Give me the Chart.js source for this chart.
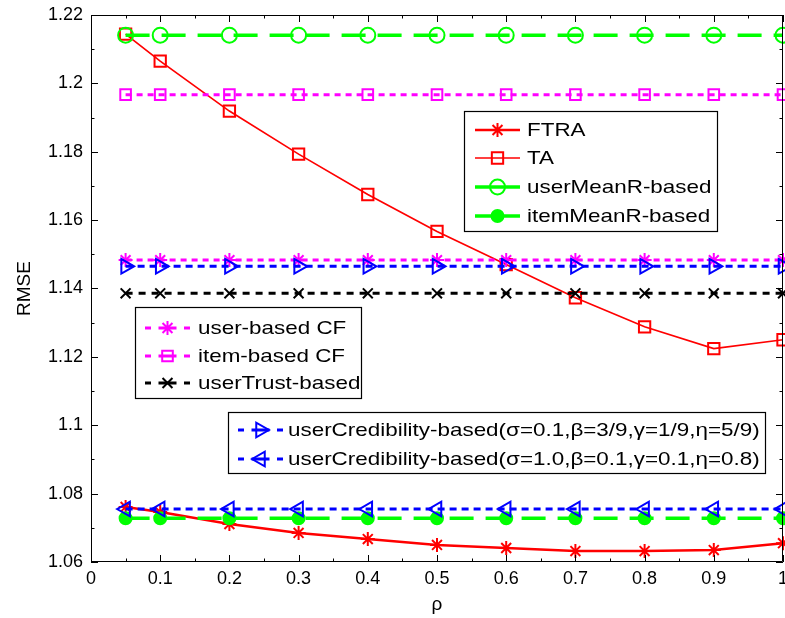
<!DOCTYPE html>
<html>
<head>
<meta charset="utf-8">
<script src="https://cdn.jsdelivr.net/npm/chart.js@4.4.1/dist/chart.umd.min.js"></script>
<style>
  html, body { margin: 0; padding: 0; background: #ffffff; }
  canvas { display: block; }
</style>
</head>
<body>
<canvas id="chart" width="785" height="618"></canvas>
<script>
// Sparsity parameter rho on the x axis
const rho = [0.05, 0.1, 0.2, 0.3, 0.4, 0.5, 0.6, 0.7, 0.8, 0.9, 1.0];

// RMSE of each method
const ftra = [1.0761, 1.0746, 1.0711, 1.0685, 1.0667, 1.0650, 1.0641, 1.0632, 1.0632, 1.0635, 1.0655];
const ta = [1.2144, 1.2065, 1.1919, 1.1793, 1.1675, 1.1567, 1.1470, 1.1373, 1.1288, 1.1224, 1.1250];
const userMeanR = [1.2141, 1.2141, 1.2141, 1.2141, 1.2141, 1.2141, 1.2141, 1.2141, 1.2141, 1.2141, 1.2141];
const itemMeanR = [1.0728, 1.0728, 1.0728, 1.0728, 1.0728, 1.0728, 1.0728, 1.0728, 1.0728, 1.0728, 1.0728];
const userCF = [1.1483, 1.1483, 1.1483, 1.1483, 1.1483, 1.1483, 1.1483, 1.1483, 1.1483, 1.1483, 1.1483];
const itemCF = [1.1967, 1.1967, 1.1967, 1.1967, 1.1967, 1.1967, 1.1967, 1.1967, 1.1967, 1.1967, 1.1967];
const userTrust = [1.1386, 1.1386, 1.1386, 1.1386, 1.1386, 1.1386, 1.1386, 1.1386, 1.1386, 1.1386, 1.1386];
const userCred1 = [1.1465, 1.1465, 1.1465, 1.1465, 1.1465, 1.1465, 1.1465, 1.1465, 1.1465, 1.1465, 1.1465];
const userCred2 = [1.0755, 1.0755, 1.0755, 1.0755, 1.0755, 1.0755, 1.0755, 1.0755, 1.0755, 1.0755, 1.0755];

// Series names
const names = [
  'FTRA', 'TA', 'userMeanR-based', 'itemMeanR-based',
  'user-based CF', 'item-based CF', 'userTrust-based',
  'userCredibility-based(\u03c3=0.1,\u03b2=3/9,\u03b3=1/9,\u03b7=5/9)',
  'userCredibility-based(\u03c3=1.0,\u03b2=0.1,\u03b3=0.1,\u03b7=0.8)'
];

// Axis ranges and tick steps
const xRange = [0, 1];
const yRange = [1.06, 1.22];
const xStep = 0.1;
const yStep = 0.02;

const RED = '#ff0000', GREEN = '#00ff00', MAGENTA = '#ff00ff', BLACK = '#000000', BLUE = '#0000ff';

const pts = arr => rho.map((x, i) => ({ x: x, y: arr[i] }));

// legendSolid: the legend sample is drawn as one continuous stroke
const styles = [
  { data: ftra,      color: RED,     width: 2.5, dash: [],       point: 'star',     radius: 7,   rot: 0,   fill: false, legendSolid: true },
  { data: ta,        color: RED,     width: 1.7, dash: [],       point: 'rect',     radius: 8,   rot: 0,   fill: false, legendSolid: true },
  { data: userMeanR, color: GREEN,   width: 3.5, dash: [24, 12], point: 'circle',   radius: 7.5, rot: 0,   fill: false, legendSolid: true },
  { data: itemMeanR, color: GREEN,   width: 3.5, dash: [24, 12], point: 'circle',   radius: 6,   rot: 0,   fill: true,  legendSolid: true },
  { data: userCF,    color: MAGENTA, width: 3,   dash: [6, 5],   point: 'star',     radius: 7,   rot: 0,   fill: false, legendSolid: false },
  { data: itemCF,    color: MAGENTA, width: 3,   dash: [6, 5],   point: 'rect',     radius: 7.5, rot: 0,   fill: false, legendSolid: false },
  { data: userTrust, color: BLACK,   width: 3,   dash: [7, 6],   point: 'crossRot', radius: 7,   rot: 0,   fill: false, legendSolid: false },
  { data: userCred1, color: BLUE,    width: 3,   dash: [7, 5],   point: 'triangle', radius: 8.5, rot: 90,  fill: false, legendSolid: false },
  { data: userCred2, color: BLUE,    width: 3,   dash: [7, 5],   point: 'triangle', radius: 8.5, rot: -90, fill: false, legendSolid: false }
];

const datasets = styles.map((s, i) => ({
  label: names[i],
  data: pts(s.data),
  borderColor: s.color,
  borderWidth: s.width,
  borderDash: s.dash,
  pointStyle: s.point,
  pointRadius: s.radius,
  pointRotation: s.rot,
  pointBorderWidth: 2,
  pointBorderColor: s.color,
  pointBackgroundColor: s.fill ? s.color : 'rgba(0,0,0,0)',
  pointHoverRadius: s.radius,
  tension: 0,
  fill: false,
  clip: false,
  order: 9 - i
}));

// Legend boxes: [left, top, right, bottom], rows of series indices with row centres
const legendBoxes = [
  { box: [464, 111, 717, 231], rows: [[0, 130], [1, 158], [2, 187], [3, 216]], x0: 475, x1: 520, tx: 527 },
  { box: [135, 307, 361, 398], rows: [[4, 328], [5, 356], [6, 383]], x0: 145, x1: 190, tx: 198 },
  { box: [228, 412, 765, 473], rows: [[7, 430], [8, 459]], x0: 238, x1: 283, tx: 288 }
];

const LEGEND_FONT = '19px "Liberation Sans", Arial, sans-serif';
const LEGEND_STRETCH = 1.18;

// Frame with inward major and minor ticks on all four sides, plus the legend boxes
const framePlugin = {
  id: 'frame',
  afterDatasetsDraw(chart) {
    const { ctx, chartArea: a, scales } = chart;
    const xs = scales.x, ys = scales.y;
    ctx.save();
    ctx.strokeStyle = '#000';
    ctx.lineWidth = 1;
    ctx.setLineDash([]);
    ctx.beginPath();
    ctx.moveTo(a.left + 0.5, a.top + 0.5);
    ctx.lineTo(a.right - 0.5, a.top + 0.5);
    ctx.lineTo(a.right - 0.5, a.bottom - 0.5);
    ctx.lineTo(a.left + 0.5, a.bottom - 0.5);
    ctx.closePath();
    ctx.stroke();
    const major = 7, minor = 3.5;
    ctx.beginPath();
    for (let k = 0; k <= 20; k++) {
      const v = xRange[0] + k * xStep / 2;
      const px = Math.round(xs.getPixelForValue(v)) + 0.5;
      const len = (k % 2 === 0) ? major : minor;
      ctx.moveTo(px, a.bottom); ctx.lineTo(px, a.bottom - len);
      ctx.moveTo(px, a.top); ctx.lineTo(px, a.top + len);
    }
    for (let k = 0; k <= 16; k++) {
      const v = yRange[0] + k * yStep / 2;
      const py = Math.round(ys.getPixelForValue(v)) + 0.5;
      const len = (k % 2 === 0) ? major : minor;
      ctx.moveTo(a.left, py); ctx.lineTo(a.left + len, py);
      ctx.moveTo(a.right, py); ctx.lineTo(a.right - len, py);
    }
    ctx.stroke();
    ctx.restore();
  },
  afterDraw(chart) {
    const ctx = chart.ctx;
    ctx.save();
    legendBoxes.forEach(lb => {
      const [l, t, r, b] = lb.box;
      ctx.setLineDash([]);
      ctx.fillStyle = '#fff';
      ctx.fillRect(l, t, r - l, b - t);
      ctx.strokeStyle = '#000';
      ctx.lineWidth = 1.2;
      ctx.strokeRect(l + 0.5, t + 0.5, r - l, b - t);
      lb.rows.forEach(([idx, y]) => {
        const s = styles[idx];
        const mid = (lb.x0 + lb.x1) / 2;
        ctx.strokeStyle = s.color;
        ctx.lineWidth = s.width;
        ctx.setLineDash([]);
        ctx.beginPath();
        if (s.legendSolid) {
          ctx.moveTo(lb.x0, y); ctx.lineTo(lb.x1, y);
        } else {
          // short dashes at both ends and a stub through the marker
          ctx.moveTo(lb.x0, y); ctx.lineTo(lb.x0 + 6, y);
          ctx.moveTo(lb.x1 - 6, y); ctx.lineTo(lb.x1, y);
          ctx.moveTo(mid - 9, y); ctx.lineTo(mid + 9, y);
        }
        ctx.stroke();
        ctx.fillStyle = s.fill ? s.color : 'rgba(0,0,0,0)';
        ctx.strokeStyle = s.color;
        ctx.lineWidth = 2;
        Chart.helpers.drawPoint(ctx, {
          pointStyle: s.point, rotation: s.rot, radius: s.radius, borderWidth: 2
        }, mid, y);
        ctx.fillStyle = '#000';
        ctx.font = LEGEND_FONT;
        ctx.textBaseline = 'middle';
        ctx.textAlign = 'left';
        ctx.save();
        ctx.translate(lb.tx, y + 1);
        ctx.scale(LEGEND_STRETCH, 1);
        ctx.fillText(names[idx], 0, 0);
        ctx.restore();
      });
    });
    ctx.restore();
  }
};

const tickFont = { family: '"Liberation Sans", Arial, sans-serif', size: 18 };

new Chart(document.getElementById('chart'), {
  type: 'line',
  data: { datasets: datasets },
  plugins: [framePlugin],
  options: {
    responsive: false,
    animation: false,
    events: [],
    layout: { autoPadding: false, padding: { top: 15, right: 2, left: 0, bottom: 0 } },
    plugins: { legend: { display: false }, tooltip: { enabled: false } },
    scales: {
      x: {
        type: 'linear',
        min: xRange[0], max: xRange[1],
        grid: { display: false, drawTicks: false },
        border: { display: false },
        ticks: {
          stepSize: xStep, color: '#000', font: tickFont, padding: 6,
          maxRotation: 0, autoSkip: false,
          callback: v => String(Math.round(v * 10) / 10)
        },
        title: { display: true, text: '\u03c1', color: '#000', font: { family: tickFont.family, size: 19 }, padding: { top: 0, bottom: 2 } },
        afterFit: s => { s.height = 56; s.paddingLeft = 0; s.paddingRight = 0; }
      },
      y: {
        type: 'linear',
        min: yRange[0], max: yRange[1],
        grid: { display: false, drawTicks: false },
        border: { display: false },
        ticks: {
          stepSize: yStep, color: '#000', font: tickFont, padding: 8,
          callback: v => String(Math.round(v * 100) / 100)
        },
        title: { display: true, text: 'RMSE', color: '#000', font: { family: tickFont.family, size: 19 }, padding: { top: 13, bottom: 0 } },
        afterFit: s => { s.width = 91; s.paddingTop = 0; s.paddingBottom = 0; }
      }
    }
  }
});
</script>
</body>
</html>
